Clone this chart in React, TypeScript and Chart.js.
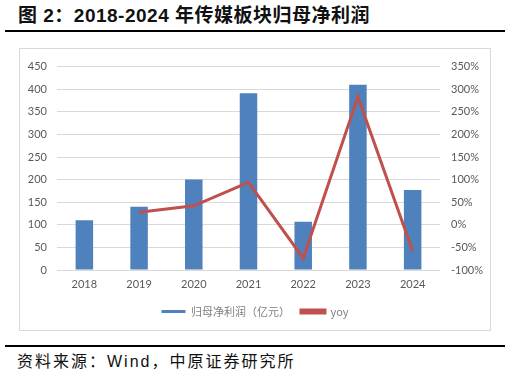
import React, { useEffect, useRef } from "react";
import { Chart, registerables } from "chart.js";

Chart.register(...registerables);

const years = ["2018", "2019", "2020", "2021", "2022", "2023", "2024"];
const netProfit = [110, 140, 200, 391, 107, 410, 177];
const yoy = [null, 28, 42, 94, -74, 283, -58];
const leftTicks = [0, 50, 100, 150, 200, 250, 300, 350, 400, 450];
const rightTicks = [-100, -50, 0, 50, 100, 150, 200, 250, 300, 350];

const tickFont = { family: "Lato, 'Noto Sans CJK SC'", size: 11 };
const tickColor = "#595959";

export default function App() {
  const ref = useRef<HTMLCanvasElement | null>(null);
  useEffect(() => {
    if (!ref.current) return;
    const chart = new Chart(ref.current, {
      type: "bar",
      data: {
        labels: years,
        datasets: [
          {
            type: "bar",
            label: "归母净利润（亿元）",
            data: netProfit,
            backgroundColor: "#4f81bd",
            borderWidth: 0,
            categoryPercentage: 1,
            barPercentage: 0.32,
            yAxisID: "y",
            order: 2,
          },
          {
            type: "line",
            label: "yoy",
            data: yoy as any,
            borderColor: "#c0504d",
            backgroundColor: "#c0504d",
            borderWidth: 3,
            pointRadius: 0,
            tension: 0,
            spanGaps: false,
            yAxisID: "y1",
            order: 1,
          },
        ],
      },
      options: {
        animation: false,
        responsive: false,
        maintainAspectRatio: false,
        layout: { padding: { top: 13, bottom: 3, left: 0, right: 0 } },
        plugins: {
          tooltip: { enabled: false },
          legend: {
            position: "bottom",
            labels: {
              boxWidth: 24,
              boxHeight: 3,
              padding: 11,
              font: { family: "'Noto Sans CJK SC', Lato", size: 11 },
              color: "#7f7f7f",
              sort: (a: any, b: any) => a.datasetIndex - b.datasetIndex,
            },
          },
        },
        scales: {
          x: {
            grid: { display: false, drawTicks: false },
            border: { display: false },
            ticks: { font: tickFont, color: tickColor, padding: 8 },
            afterFit: (s: any) => {
              s.height = 25;
            },
          },
          y: {
            position: "left",
            min: 0,
            max: 450,
            afterBuildTicks: (s: any) => {
              s.ticks = leftTicks.map((v) => ({ value: v }));
            },
            grid: { color: "#d9d9d9", lineWidth: 1, drawTicks: false },
            border: { display: false },
            ticks: { font: tickFont, color: tickColor, padding: 10 },
            afterFit: (s: any) => {
              s.width = 37;
            },
          },
          y1: {
            position: "right",
            min: -100,
            max: 350,
            afterBuildTicks: (s: any) => {
              s.ticks = rightTicks.map((v) => ({ value: v }));
            },
            grid: { display: false, drawTicks: false },
            border: { display: false },
            ticks: {
              font: tickFont,
              color: tickColor,
              padding: 11,
              callback: (v: any) => `${v}%`,
            },
            afterFit: (s: any) => {
              s.width = 50;
            },
          },
        },
      },
    });
    return () => chart.destroy();
  }, []);

  return (
    <div
      style={{
        position: "absolute",
        left: 0,
        top: 0,
        width: 510,
        height: 379,
        background: "#fff",
        fontFamily: "'Liberation Sans', 'Noto Sans CJK SC', sans-serif",
      }}
    >
      <div
        style={{
          position: "absolute",
          left: 18,
          top: 4,
          fontSize: 19,
          letterSpacing: 0.5,
          fontWeight: "bold",
          color: "#111",
          whiteSpace: "nowrap",
          lineHeight: "24px",
        }}
      >
        图 2：2018-2024 年传媒板块归母净利润
      </div>
      <div
        style={{
          position: "absolute",
          left: 5,
          top: 30,
          width: 500,
          height: 2,
          background: "#000",
        }}
      />
      <div
        style={{
          position: "absolute",
          left: 19,
          top: 48,
          width: 470,
          height: 281,
          border: "1px solid #d9d9d9",
        }}
      >
        <canvas ref={ref} width={470} height={281} style={{ display: "block" }} />
      </div>
      <div
        style={{
          position: "absolute",
          left: 5,
          top: 345,
          width: 500,
          height: 2,
          background: "#000",
        }}
      />
      <div
        style={{
          position: "absolute",
          left: 17,
          top: 352,
          fontSize: 16,
          letterSpacing: 2,
          color: "#111",
          whiteSpace: "nowrap",
          lineHeight: "20px",
        }}
      >
        资料来源：Wind，中原证券研究所
      </div>
    </div>
  );
}
